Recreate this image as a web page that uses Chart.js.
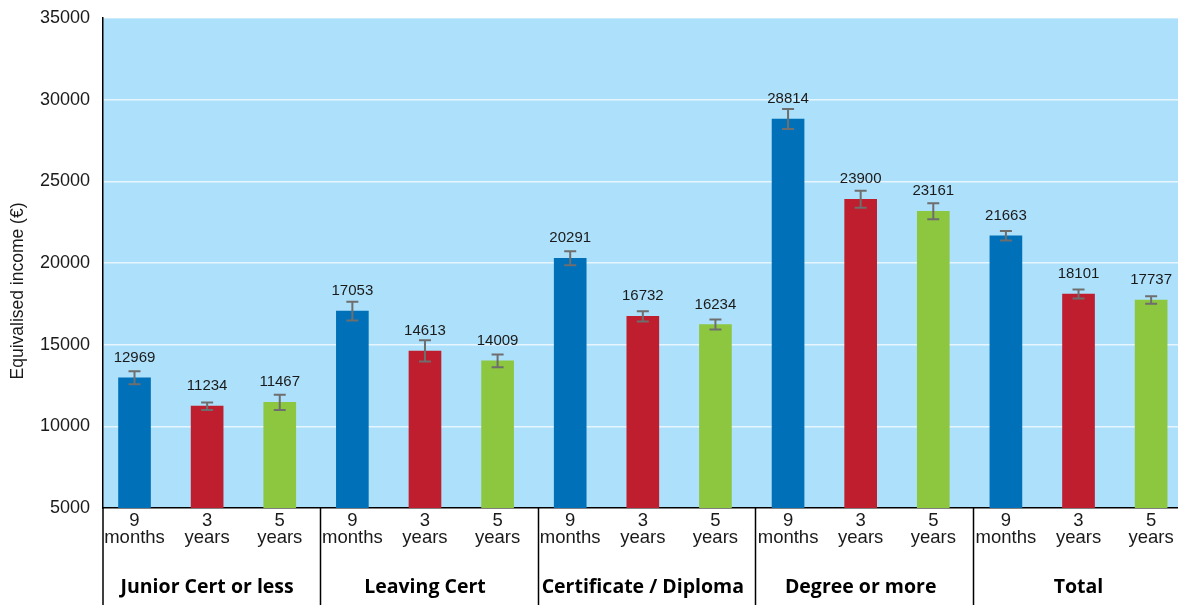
<!DOCTYPE html>
<html>
<head>
<meta charset="utf-8">
<title>Equivalised income</title>
<script src="https://cdn.jsdelivr.net/npm/chart.js"></script>
<style>
  body { margin: 0; background: #fff; overflow: hidden; }
  #wrap { width: 1178px; height: 605px; }
</style>
</head>
<body>
<div id="wrap"><canvas id="chart"></canvas></div>
<script>
// groups along the x axis, and the three time points inside each group
const groups = ['Junior Cert or less', 'Leaving Cert', 'Certificate / Diploma', 'Degree or more', 'Total'];
const periods = [['9', 'months'], ['3', 'years'], ['5', 'years']];

// equivalised income per group, by time point
const nineMonths = [12969, 17053, 20291, 28814, 21663];
const threeYears = [11234, 14613, 16732, 23900, 18101];
const fiveYears = [11467, 14009, 16234, 23161, 17737];

// half-width of the error bars
const nineMonthsErr = [400, 580, 430, 610, 290];
const threeYearsErr = [230, 650, 315, 520, 275];
const fiveYearsErr = [460, 390, 300, 490, 225];

const yTicks = [5000, 10000, 15000, 20000, 25000, 30000, 35000];
const yTitle = 'Equivalised income (€)';

const periodColors = ['#0071b9', '#be1e2d', '#8dc63f'];
const series = [nineMonths, threeYears, fiveYears];
const seriesErr = [nineMonthsErr, threeYearsErr, fiveYearsErr];

const points = [], errs = [], colors = [];
groups.forEach((g, gi) => {
  series.forEach((s, pi) => {
    points.push({ x: gi * 3 + pi, y: s[gi] });
    errs.push(seriesErr[pi][gi]);
    colors.push(periodColors[pi]);
  });
});

const FONT = '"Liberation Sans", Arial, Helvetica, sans-serif';

const decorations = {
  id: 'decorations',
  beforeDraw(chart) {
    const { ctx, chartArea: a } = chart;
    ctx.save();
    ctx.fillStyle = '#ade0fa';
    ctx.fillRect(a.left, a.top, a.right - a.left, a.bottom - a.top);
    ctx.restore();
  },
  afterDatasetsDraw(chart) {
    const { ctx, scales: { x, y } } = chart;
    const meta = chart.getDatasetMeta(0);
    ctx.save();
    // error bars
    ctx.strokeStyle = '#6e6e6e';
    ctx.lineWidth = 2;
    meta.data.forEach((bar, i) => {
      const v = points[i].y, e = errs[i];
      const top = y.getPixelForValue(v + e);
      const bot = y.getPixelForValue(v - e);
      ctx.beginPath();
      ctx.moveTo(bar.x, top); ctx.lineTo(bar.x, bot);
      ctx.moveTo(bar.x - 6, top); ctx.lineTo(bar.x + 6, top);
      ctx.moveTo(bar.x - 6, bot); ctx.lineTo(bar.x + 6, bot);
      ctx.stroke();
    });
    // value labels
    ctx.fillStyle = '#1a1a1a';
    ctx.font = '15px ' + FONT;
    ctx.textAlign = 'center';
    ctx.textBaseline = 'alphabetic';
    meta.data.forEach((bar, i) => {
      ctx.fillText(String(points[i].y), bar.x, bar.y - 16);
    });
    ctx.restore();
  },
  afterDraw(chart) {
    const { ctx, chartArea: a, scales: { x } } = chart;
    const h = chart.height;
    ctx.save();
    ctx.strokeStyle = '#000';
    ctx.lineWidth = 1.5;
    ctx.beginPath();
    ctx.moveTo(a.left, a.bottom); ctx.lineTo(a.left, h);
    for (let gi = 1; gi < groups.length; gi++) {
      const px = Math.round(x.getPixelForValue(gi * 3 - 0.45)) + 0.5;
      ctx.moveTo(px, a.bottom); ctx.lineTo(px, h);
    }
    ctx.stroke();
    ctx.fillStyle = '#000';
    ctx.font = 'bold 19.5px "Open Sans", sans-serif';
    ctx.textAlign = 'center';
    ctx.textBaseline = 'alphabetic';
    groups.forEach((g, gi) => {
      ctx.fillText(g, x.getPixelForValue(gi * 3 + 1), 593);
    });
    // y title, sits a bit below the middle of the axis in the original
    ctx.fillStyle = '#1a1a1a';
    ctx.font = '17.5px ' + FONT;
    ctx.textBaseline = 'middle';
    ctx.translate(18, 291);
    ctx.rotate(-Math.PI / 2);
    ctx.fillText(yTitle, 0, 0);
    ctx.restore();
  }
};

new Chart(document.getElementById('chart').getContext('2d'), {
  type: 'bar',
  data: {
    datasets: [{
      data: points,
      backgroundColor: colors,
      barThickness: 32,
      borderWidth: 0
    }]
  },
  options: {
    responsive: true,
    maintainAspectRatio: false,
    animation: false,
    layout: { padding: { top: 18, right: 0, left: 0, bottom: 0 } },
    plugins: { legend: { display: false }, tooltip: { enabled: false } },
    scales: {
      x: {
        type: 'linear',
        offset: false,
        min: -0.434,
        max: 14.37,
        grid: { display: false, drawTicks: false, offset: false },
        border: { color: '#000', width: 1.5 },
        afterBuildTicks: (scale) => {
          scale.ticks = points.map(p => ({ value: p.x }));
        },
        afterFit: (scale) => {
          scale.height = 97;
          scale.paddingLeft = 0;
          scale.paddingRight = 0;
        },
        ticks: {
          autoSkip: false,
          maxRotation: 0,
          padding: 4,
          color: '#1a1a1a',
          font: { family: FONT, size: 18.5, lineHeight: 0.95 },
          callback: (value, index) => periods[index % 3]
        }
      },
      y: {
        min: 5000,
        max: 35000,
        afterBuildTicks: (scale) => {
          scale.ticks = yTicks.map(v => ({ value: v }));
        },
        afterFit: (scale) => {
          scale.width = 103;
          scale.paddingTop = 0;
          scale.paddingBottom = 0;
        },
        grid: { color: 'rgba(255,255,255,0.7)', lineWidth: 1.5, drawTicks: false },
        border: { color: '#000', width: 1.5 },
        ticks: {
          padding: 13,
          color: '#1a1a1a',
          font: { family: FONT, size: 18 },
          callback: (value) => String(value)
        }
      }
    }
  },
  plugins: [decorations]
});
</script>
</body>
</html>
